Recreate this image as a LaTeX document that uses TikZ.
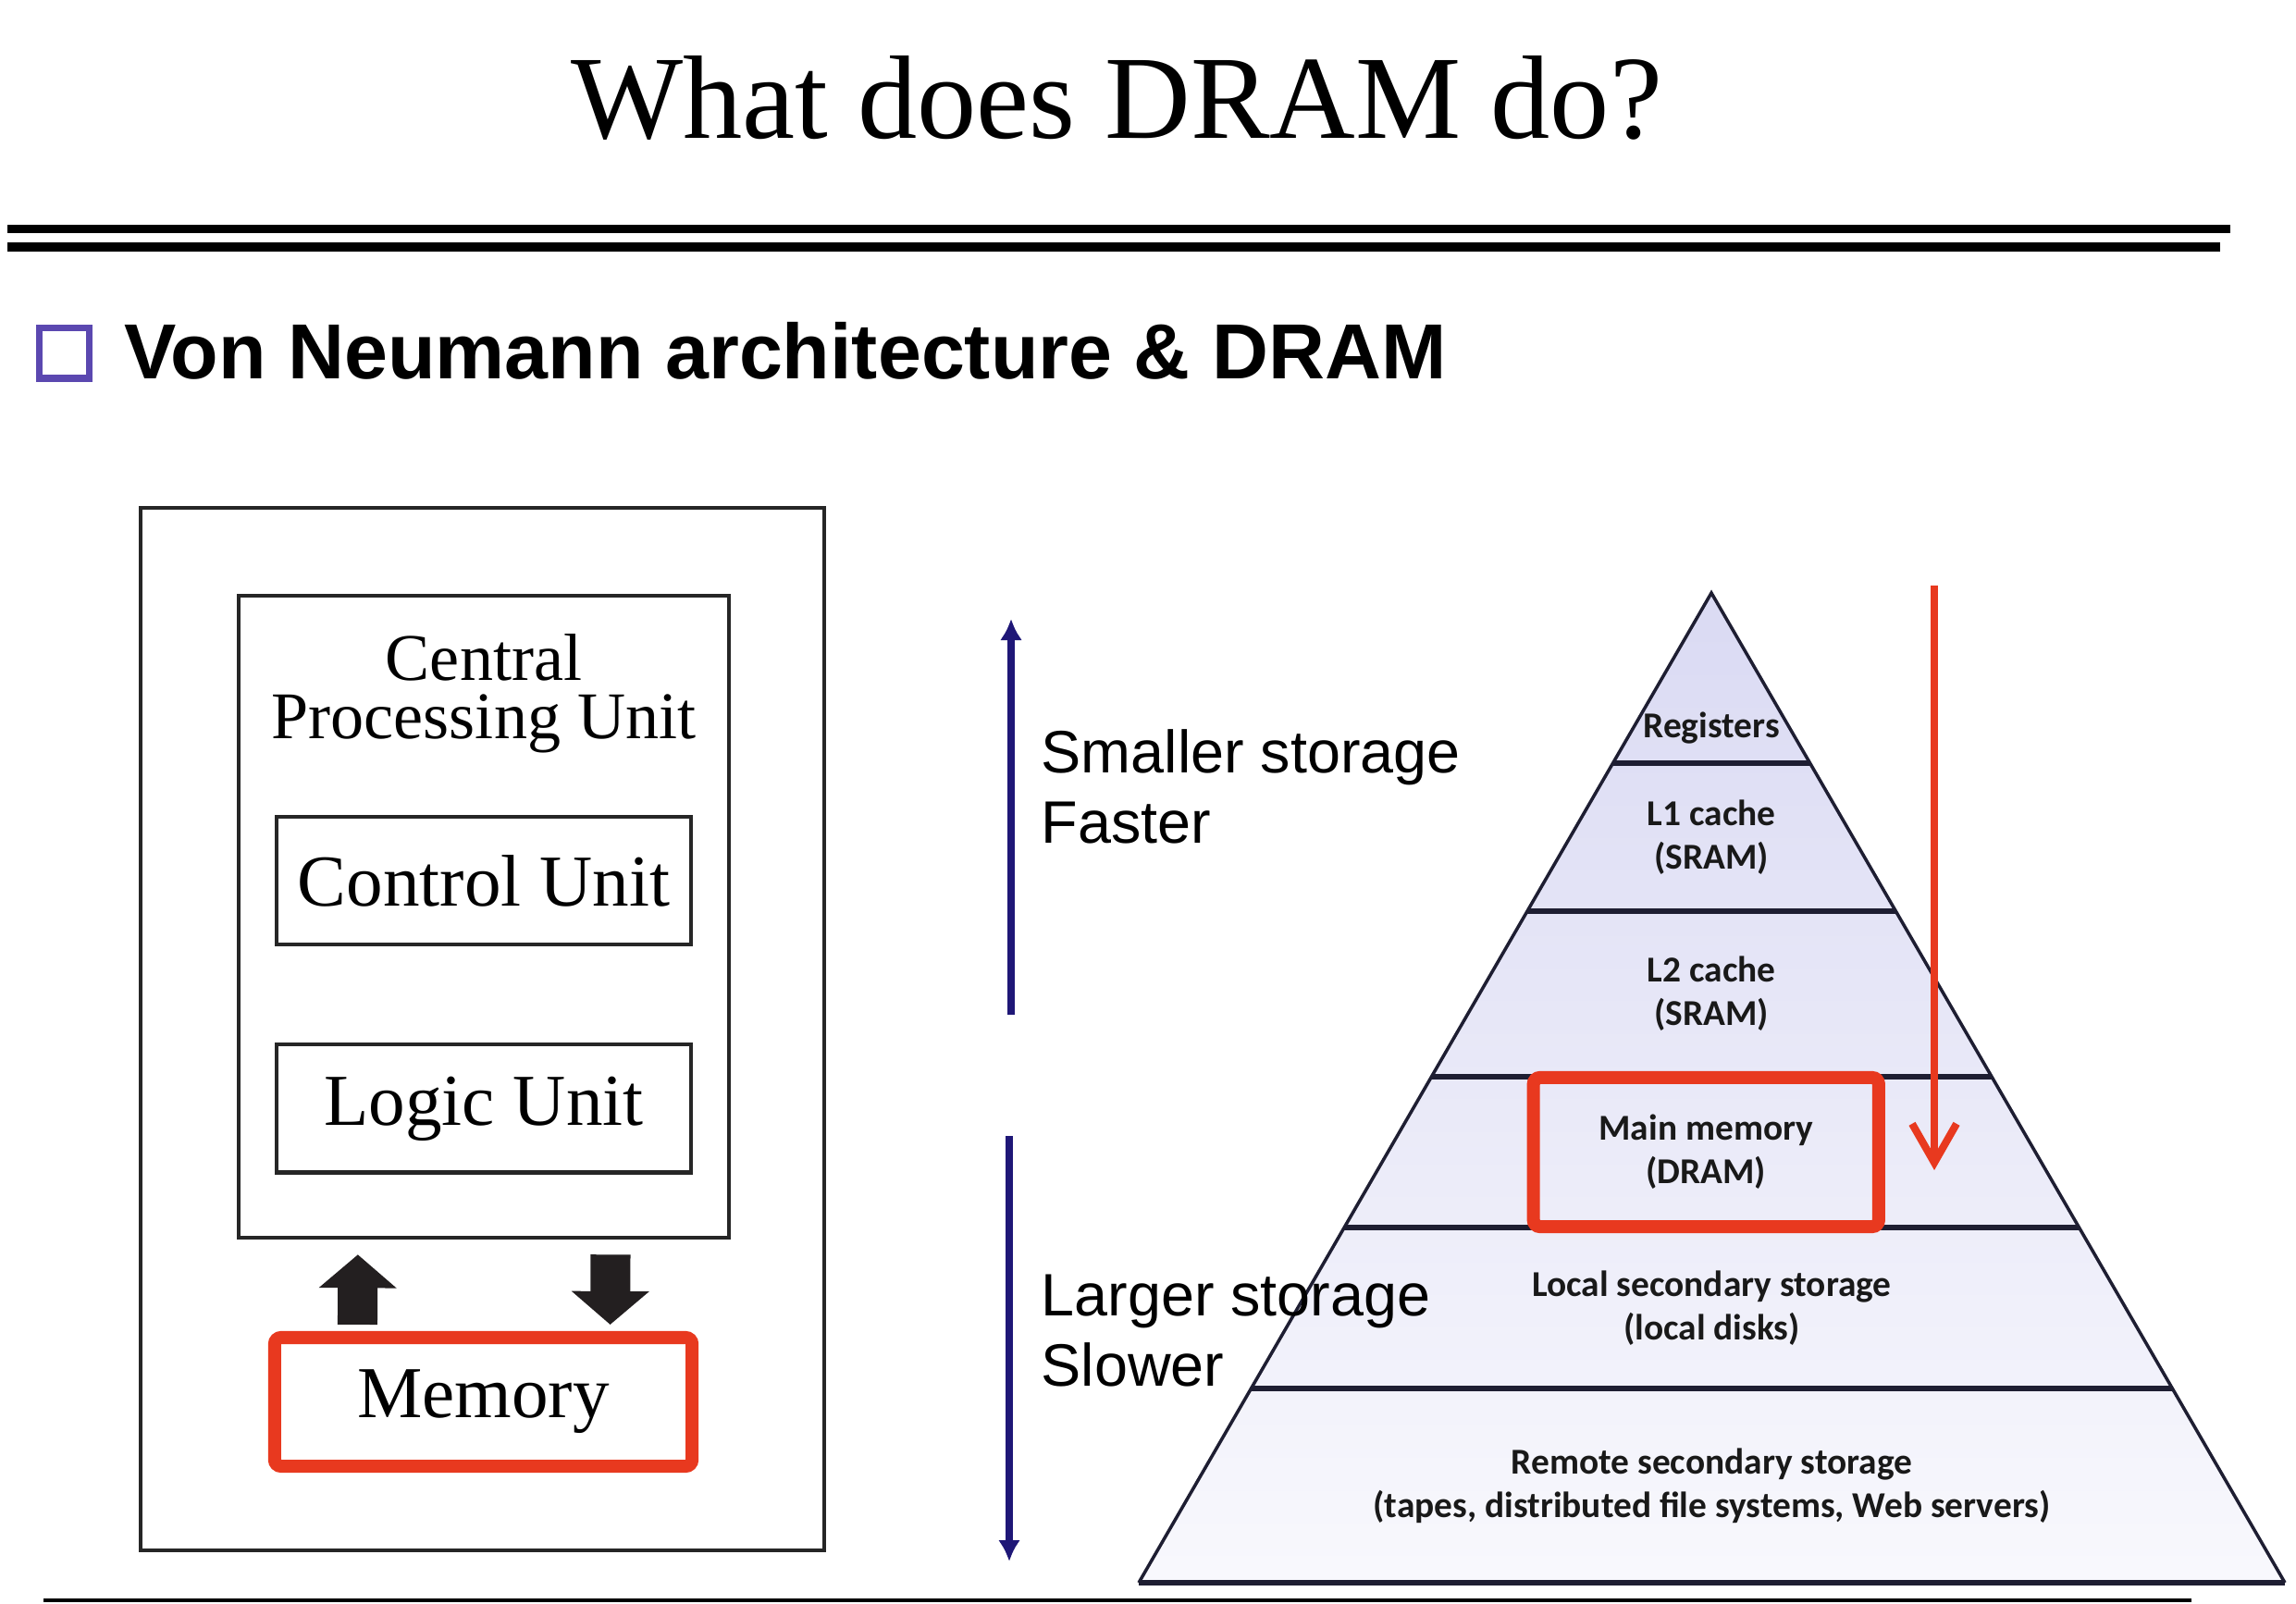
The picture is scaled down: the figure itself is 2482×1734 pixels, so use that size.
\documentclass[tikz,border=0pt]{standalone}
\usepackage{fontspec}
\setmainfont{Liberation Serif}
\setsansfont{Liberation Sans}
\newfontfamily\calibrifont{Carlito}
\usetikzlibrary{positioning,calc,arrows.meta}

\definecolor{navy}{RGB}{31,23,119}
\definecolor{hired}{RGB}{232,57,31}
\definecolor{bulletblue}{RGB}{91,72,176}
\definecolor{lavender}{RGB}{218,218,243}
\definecolor{inkdark}{RGB}{35,31,32}
\definecolor{pyrline}{RGB}{30,30,50}

\begin{document}
\begin{tikzpicture}[x=0.01cm, y=-0.01cm,
    frame/.style={draw=black!85, line width=1.2pt, inner sep=0pt},
    unitbox/.style={frame, minimum width=4.48cm, minimum height=1.38cm, font=\fontsize{22.5}{26}\selectfont},
    redbox/.style={draw=hired, line width=4pt, rounded corners=2pt},
    blockarrow/.style={draw=inkdark, line width=0.43cm, -{Triangle[length=0.36cm, width=0.82cm]}},
    sidelabel/.style={font=\sffamily\fontsize{18.4}{21.6}\selectfont, align=left, anchor=north west, inner sep=0pt},
    level/.style={font=\calibrifont\bfseries\fontsize{11.2}{13.4}\selectfont, align=center, text=black!90, inner sep=0pt},
    divider/.style={draw=pyrline, line width=1.6pt},
    navyarrow/.style={draw=navy, line width=2pt, -{Latex[length=0.23cm, width=0.24cm]}},
    redarrow/.style={draw=hired, line width=2.3pt, -{Straight Barb[length=0.42cm, width=0.48cm]}},
]
\path[use as bounding box, fill=white] (0,0) rectangle (2482,1734);

% Heading and rules
\node[font=\fontsize{36.5}{40}\selectfont, anchor=base] (title) at (1207,150) {What does DRAM do?};
\draw[line width=2.6pt] (8,247.5) -- (2411,247.5);
\draw[line width=3.1pt] (8,267) -- (2400,267);
\draw[line width=1.2pt] (47,1730) -- (2369,1730);

\node[draw=bulletblue, line width=2pt, minimum size=0.54cm, inner sep=0pt] (bullet) at (69.5,382) {};
\node[font=\sffamily\bfseries\fontsize{24}{28}\selectfont, anchor=base west, inner sep=0pt] (subtitle) at (134,410) {Von Neumann architecture \& DRAM};

% Von Neumann machine
\node[frame, minimum width=7.39cm, minimum height=11.27cm] (sys) at (521.5,1112.5) {};
\node[frame, minimum width=5.30cm, minimum height=6.94cm] (cpu) at (523,991) {};
\node[font=\fontsize{20.5}{18}\selectfont, align=center, inner sep=0pt, anchor=north] (cputitle) at ([yshift=-0.43cm]cpu.north) {Central\\Processing Unit};
\node[unitbox] (ctrl) at (523,952) {Control Unit};
\node[unitbox, below=1.04cm of ctrl] (logic) {Logic Unit};
\node[redbox, minimum width=4.51cm, minimum height=1.39cm, font=\fontsize{22.5}{26}\selectfont] (mem) at (522.5,1515.5) {Memory};

\draw[blockarrow, shorten <=0.07cm, shorten >=0.16cm] ([xshift=-1.36cm]mem.north) -- ([xshift=-1.36cm]cpu.south);
\draw[blockarrow, shorten <=0.16cm, shorten >=0.07cm] ([xshift=1.37cm]cpu.south) -- ([xshift=1.37cm]mem.north);

% Memory hierarchy pyramid
\coordinate (apex) at (1850,641);
\coordinate (bl) at (1231,1711);
\coordinate (br) at (2470,1711);
\coordinate (bc) at ($(bl)!0.5!(br)$);
\shade[top color=lavender, middle color=lavender!92, bottom color=lavender!18] (apex) -- (bl) -- (br) -- cycle;
\foreach \t [count=\i] in {0.172,0.3215,0.4888,0.6411,0.8037} {
    \coordinate (l\i) at ($(apex)!\t!(bl)$);
    \coordinate (r\i) at ($(apex)!\t!(br)$);
    \coordinate (c\i) at ($(l\i)!0.5!(r\i)$);
    \draw[divider] (l\i) -- (r\i);
}
\draw[draw=pyrline, line width=1pt] (bl) -- (apex) -- (br);
\draw[divider] (bl) -- (br);

\node[level] (reg) at ($(c1)+(0,-38)$) {Registers};
\node[level] (lonec) at ($(c1)!0.5!(c2)$) {L1 cache\\(SRAM)};
\node[level] (ltwoc) at ($(c2)!0.5!(c3)$) {L2 cache\\(SRAM)};
\node[level, redbox, minimum width=3.73cm, minimum height=1.61cm] (dram) at ($(c3)!0.5!(c4)+(-6,0)$) {Main memory\\(DRAM)};
\node[level] (localst) at ($(c4)!0.5!(c5)$) {Local secondary storage\\(local disks)};
\node[level] (remotest) at ($(c5)!0.5!(bc)$) {Remote secondary storage\\(tapes, distributed file systems, Web servers)};

% Size / speed notes
\node[sidelabel] (fastlbl) at (1125,788) {Smaller storage\\Faster};
\node[sidelabel] (slowlbl) at (1125,1377) {Larger storage\\Slower};

\coordinate (fastfoot) at (1093,1097);
\coordinate (fasthead) at (1093,669);
\coordinate (slowfoot) at (1091,1228);
\coordinate (slowhead) at (1091,1688);
\draw[navyarrow] (fastfoot) -- (fasthead);
\draw[navyarrow] (slowfoot) -- (slowhead);

\coordinate (scantop) at (2091,633);
\coordinate (scanend) at (2091,1265);
\draw[redarrow] (scantop) -- (scanend);

\end{tikzpicture}
\end{document}
